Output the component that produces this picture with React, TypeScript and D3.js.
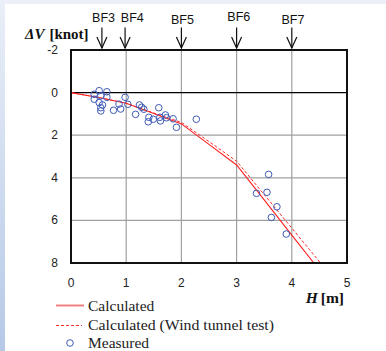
import * as d3 from 'd3';

// measured points: [H (m), ΔV (knot)]
const measuredH = [0.51, 0.65, 0.42, 0.54, 0.65, 0.42, 0.51, 0.57, 0.54, 0.54, 0.77, 0.98, 0.87, 0.9, 1.03, 1.17, 1.24, 1.28, 1.32, 1.59, 1.41, 1.4, 1.49, 1.61, 1.71, 1.73, 1.62, 1.85, 1.91, 2.27, 3.58, 3.36, 3.55, 3.73, 3.63, 3.9];
const measuredDV = [-0.09, -0.04, 0.08, 0.15, 0.22, 0.31, 0.47, 0.58, 0.71, 0.86, 0.83, 0.22, 0.54, 0.77, 0.55, 1.02, 0.58, 0.69, 0.78, 0.71, 1.16, 1.37, 1.25, 1.16, 1.05, 1.18, 1.33, 1.23, 1.63, 1.25, 3.84, 4.73, 4.68, 5.36, 5.86, 6.64];

const calcH = [0, 0.5, 1, 1.5, 2, 2.5, 3, 3.5, 4, 4.4];
const calcDV = [0, 0.23, 0.5, 0.98, 1.47, 2.43, 3.4, 5.04, 6.69, 8.0];

const windH = [0, 0.5, 1, 1.5, 2, 2.5, 3, 3.5, 4, 4.52];
const windDV = [0, 0.23, 0.5, 0.96, 1.4, 2.3, 3.22, 4.79, 6.36, 8.0];

const xTicks = [0, 1, 2, 3, 4, 5];
const yTicks = [-2, 0, 2, 4, 6, 8];

const bfLabels = ['BF3', 'BF4', 'BF5', 'BF6', 'BF7'];
const bfH = [0.56, 0.98, 2.0, 3.0, 4.0];
const bfLabelShift = [0.03, 0.13, 0.02, 0.04, 0.02];
const bfLabelDy = [22, 22, 24, 20.5, 24];

export default function App() {
  const W = 386;
  const H = 351;
  const x = d3.scaleLinear().domain([0, 5]).range([71, 347]);
  const y = d3.scaleLinear().domain([-2, 8]).range([50, 263]);

  const toPts = (xs: number[], ys: number[]) => xs.map((v, i) => [v, ys[i]] as [number, number]);
  const line = d3
    .line<[number, number]>()
    .x((d) => x(d[0]))
    .y((d) => y(d[1]));

  const sans = '"Liberation Sans", Arial, sans-serif';
  const serif = '"Liberation Serif", "Times New Roman", serif';

  return (
    <svg width={W} height={H} style={{ position: 'absolute', left: 0, top: 0 }}>
      <defs>
        <linearGradient id="bg" x1="0" y1="0" x2="0" y2="1">
          <stop offset="0" stopColor="#eaeff8" />
          <stop offset="1" stopColor="#b5c9e7" />
        </linearGradient>
        <clipPath id="plot">
          <rect x={x(0)} y={y(-2)} width={x(5) - x(0)} height={y(8) - y(-2)} />
        </clipPath>
      </defs>
      <rect x={0} y={0} width={W} height={H} fill="url(#bg)" />
      <rect x={0} y={0} width={W} height={5} fill="#eaeff8" />
      <rect x={5} y={4} width={W - 5} height={H - 4} fill="#ffffff" />

      {/* grid */}
      {xTicks.slice(1, -1).map((t) => (
        <line key={'gx' + t} x1={x(t)} x2={x(t)} y1={y(-2)} y2={y(8)} stroke="#a0a0a0" strokeWidth={1.2} />
      ))}
      {yTicks.slice(1, -1).map((t) => (
        <line key={'gy' + t} x1={x(0)} x2={x(5)} y1={y(t)} y2={y(t)} stroke={t === 0 ? '#000' : '#a0a0a0'} strokeWidth={1.2} />
      ))}

      <g clipPath="url(#plot)">
        <path d={line(toPts(windH, windDV)) || ''} fill="none" stroke="#ff2a2a" strokeWidth={1} strokeDasharray="3,2" />
        <path d={line(toPts(calcH, calcDV)) || ''} fill="none" stroke="#ff2020" strokeWidth={1.1} />
      </g>

      {measuredH.map((h, i) => (
        <circle key={'m' + i} cx={x(h)} cy={y(measuredDV[i])} r={3.3} fill="none" stroke="#3f5cb5" strokeWidth={1} />
      ))}

      <rect x={x(0)} y={y(-2)} width={x(5) - x(0)} height={y(8) - y(-2)} fill="none" stroke="#111" strokeWidth={2} />

      {/* ticks */}
      {yTicks.map((t) => (
        <text key={'yt' + t} x={58} y={y(t) + 4} textAnchor="end" fontFamily={sans} fontSize={12} fill="#222">
          {t}
        </text>
      ))}
      {xTicks.map((t) => (
        <text key={'xt' + t} x={x(t)} y={287} textAnchor="middle" fontFamily={sans} fontSize={12} fill="#222">
          {t}
        </text>
      ))}

      {/* BF arrows */}
      {bfLabels.map((b, i) => {
        const ax = x(bfH[i]);
        return (
          <g key={b}>
            <text x={x(bfH[i] + bfLabelShift[i])} y={bfLabelDy[i]} textAnchor="middle" fontFamily={sans} fontSize={13.5} fill="#111" textLength={23} lengthAdjust="spacingAndGlyphs">
              {b}
            </text>
            <line x1={ax} x2={ax} y1={27.5} y2={48} stroke="#111" strokeWidth={1.2} />
            <polyline points={`${ax - 5},37 ${ax},48 ${ax + 5},37`} fill="none" stroke="#111" strokeWidth={1.2} />
          </g>
        );
      })}

      {/* axis titles */}
      <text x={25} y={39} fontFamily={serif} fontSize={15} fontWeight="bold" fill="#111">
        <tspan fontStyle="italic">ΔV</tspan>
        <tspan dx={5}>[knot]</tspan>
      </text>
      <text x={344} y={303} textAnchor="end" fontFamily={serif} fontSize={15.5} fontWeight="bold" fill="#111">
        <tspan fontStyle="italic">H</tspan>
        <tspan dx={3}>[m]</tspan>
      </text>

      {/* legend */}
      <line x1={56} x2={84} y1={305.5} y2={305.5} stroke="#f08080" strokeWidth={2} />
      <text x={88} y={311} fontFamily={serif} fontSize={15.5} fill="#222">Calculated</text>
      <line x1={56} x2={82} y1={325.5} y2={325.5} stroke="#ff3030" strokeWidth={1} strokeDasharray="3,2" />
      <text x={88} y={330} fontFamily={serif} fontSize={15.5} fill="#222" textLength={186} lengthAdjust="spacingAndGlyphs">Calculated (Wind tunnel test)</text>
      <circle cx={70} cy={343} r={3.3} fill="none" stroke="#3f5cb5" strokeWidth={1} />
      <text x={88} y={348} fontFamily={serif} fontSize={15.5} fill="#222">Measured</text>
    </svg>
  );
}
